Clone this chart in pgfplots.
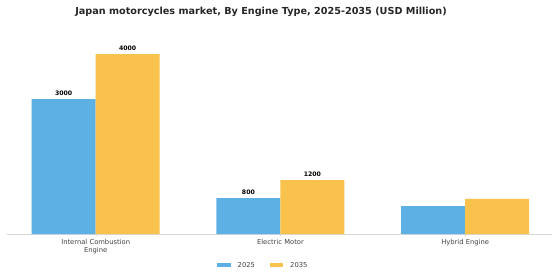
\documentclass[border=0pt]{standalone}
\usepackage{pgfplots}
\pgfplotsset{compat=1.18}
\usepackage{fontspec}
\setmainfont{DejaVu Sans}
\definecolor{cblue}{RGB}{93,176,228}
\definecolor{cyel}{RGB}{248,194,76}
\definecolor{axgray}{RGB}{215,215,215}
\begin{document}
\begin{tikzpicture}
\useasboundingbox (0,0) rectangle (560bp,280bp);
\node[font=\bfseries\fontsize{9.7}{11}\selectfont, text=black!85] at (261bp,268bp) {Japan motorcycles market, By Engine Type, 2025-2035 (USD Million)};
\begin{axis}[
  at={(7bp,46bp)}, anchor=south west,
  scale only axis, width=545bp, height=202.5bp,
  xmin=-0.48, xmax=2.47, ymin=0, ymax=4500,
  ybar=0pt, bar width=64bp,
  axis y line=none,
  axis x line*=bottom,
  x axis line style={axgray, -},
  xtick={0,1,2},
  xticklabels={{Internal Combustion\\Engine},{Electric Motor},{Hybrid Engine}},
  xticklabel style={align=center, font=\fontsize{6.8}{7.4}\selectfont, text=black!75},
  major tick length=2bp,
  tick style={axgray},
  tick align=outside,
  xtick pos=bottom,
  nodes near coords={\pgfplotspointmeta},
  point meta=explicit symbolic,
  every node near coord/.append style={font=\bfseries\fontsize{6.2}{7}\selectfont, text=black, yshift=0bp},
  legend style={at={(0.4705,-0.155)}, anchor=center, draw=none, fill=none, legend columns=2,
     column sep=13bp,
     font=\fontsize{6.8}{8}\selectfont, text=black!75, /tikz/every odd column/.append style={column sep=5bp}},
  legend image code/.code={\draw[#1, draw=none] (0cm,-0.07cm) rectangle (0.47cm,0.07cm);},
  clip=false,
]
\addplot[fill=cblue, draw=none] coordinates {(0,3000) [3000] (1,800) [800] (2,620) [{}]};
\addplot[fill=cyel, draw=none] coordinates {(0,4000) [4000] (1,1200) [1200] (2,780) [{}]};
\legend{2025,2035}
\end{axis}
\end{tikzpicture}
\end{document}
